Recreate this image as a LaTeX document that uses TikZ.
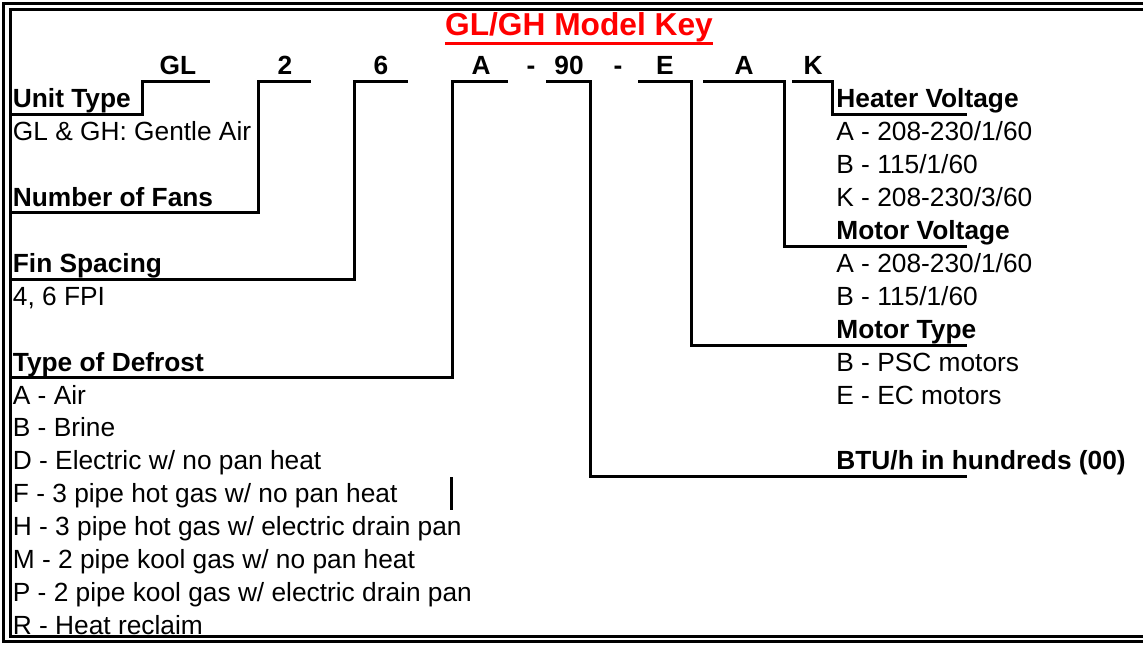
\documentclass[tikz,border=0pt]{standalone}
\usepackage{fontspec}
\setmainfont{Liberation Sans}
\begin{document}
\begin{tikzpicture}[x=0.5pt,y=-0.5pt,
  body/.style={anchor=base west, inner sep=0pt, font=\fontsize{13.15pt}{16pt}\selectfont},
  head/.style={anchor=base west, inner sep=0pt, font=\fontsize{13.15pt}{16pt}\selectfont\bfseries},
  code/.style={anchor=base, inner sep=0pt, font=\fontsize{13.15pt}{16pt}\selectfont\bfseries},
  conn/.style={line width=1.5pt},
  frameline/.style={line width=1.5pt}]
\useasboundingbox (0,0) rectangle (1143,645);
% frame
\draw[frameline] (1150,3.5) -- (3.5,3.5) -- (3.5,641.5) -- (1150,641.5);
\draw[frameline] (1150,9.5) -- (10,9.5) -- (10,636) -- (1150,636);
% title
\node[anchor=base, inner sep=0pt, text=red, font=\fontsize{15.85pt}{18pt}\selectfont\bfseries] (title) at (579,35) {GL/GH Model Key};
\draw[red, line width=1.75pt] ([yshift=-4.25pt]title.base west) -- ([yshift=-4.25pt]title.base east);
% code letters
\node[code] (cGL) at (178,74) {GL};
\node[code] (c2) at (285,74) {2};
\node[code] (c6) at (381,74) {6};
\node[code] (cA) at (481,74) {A};
\node[code] (cd1) at (531,74) {-};
\node[code] (c90) at (569,74) {90};
\node[code] (cd2) at (618,74) {-};
\node[code] (cE) at (665,74) {E};
\node[code] (cA2) at (744,74) {A};
\node[code] (cK) at (813,74) {K};
% left column
\node[head] (unittype) at (12.5,107.9) {Unit Type};
\node[body] (l1) at (12.5,140.8) {GL \& GH: Gentle Air};
\node[head] (fans) at (12.5,206.6) {Number of Fans};
\node[head] (fin) at (12.5,272.4) {Fin Spacing};
\node[body] (l6) at (12.5,305.3) {4, 6 FPI};
\node[head] (defrost) at (12.5,371.1) {Type of Defrost};
\node[body] (l9) at (12.5,404.0) {A - Air};
\node[body] (l10) at (12.5,436.9) {B - Brine};
\node[body] (l11) at (12.5,469.8) {D - Electric w/ no pan heat};
\node[body] (l12) at (12.5,502.7) {F - 3 pipe hot gas w/ no pan heat};
\node[body] (l13) at (12.5,535.6) {H - 3 pipe hot gas w/ electric drain pan};
\node[body] (l14) at (12.5,568.5) {M - 2 pipe kool gas w/ no pan heat};
\node[body] (l15) at (12.5,601.4) {P - 2 pipe kool gas w/ electric drain pan};
\node[body] (l16) at (12.5,634.3) {R - Heat reclaim};
% right column
\node[head] (heater) at (836,107.9) {Heater Voltage};
\node[body] (r1) at (836,140.8) {A - 208-230/1/60};
\node[body] (r2) at (836,173.7) {B - 115/1/60};
\node[body] (r3) at (836,206.6) {K - 208-230/3/60};
\node[head] (motorv) at (836,239.5) {Motor Voltage};
\node[body] (r5) at (836,272.4) {A - 208-230/1/60};
\node[body] (r6) at (836,305.3) {B - 115/1/60};
\node[head] (motort) at (836,338.2) {Motor Type};
\node[body] (r8) at (836,371.1) {B - PSC motors};
\node[body] (r9) at (836,404.0) {E - EC motors};
\node[head] (btu) at (836,469.8) {BTU/h in hundreds (00)};
% connector points
\coordinate (utS) at (10,114);   \coordinate (utE) at (210,81.5);
\coordinate (nfS) at (10,212.5); \coordinate (nfE) at (311,81.5);
\coordinate (fsS) at (10,279);   \coordinate (fsE) at (408,81.5);
\coordinate (tdS) at (10,377.5); \coordinate (tdE) at (508,81.5);
\coordinate (btS) at (546,81.5); \coordinate (btE) at (967,476.5);
\coordinate (mtS) at (638,81.5); \coordinate (mtE) at (967,345);
\coordinate (mvS) at (703,81.5); \coordinate (mvE) at (967,246);
\coordinate (hvS) at (792,81.5); \coordinate (hvE) at (967,114);
\coordinate (strayA) at (451,477); \coordinate (strayB) at (451,510);
% connectors
\draw[conn] (utS) -- (142,114) -- (142,81.5) -- (utE);
\draw[conn] (nfS) -- (258,212.5) -- (258,81.5) -- (nfE);
\draw[conn] (fsS) -- (354,279) -- (354,81.5) -- (fsE);
\draw[conn] (tdS) -- (452,377.5) -- (452,81.5) -- (tdE);
\draw[conn] (btS) -- (590,81.5) -- (590,476.5) -- (btE);
\draw[conn] (mtS) -- (691,81.5) -- (691,345) -- (mtE);
\draw[conn] (mvS) -- (784,81.5) -- (784,246) -- (mvE);
\draw[conn] (hvS) -- (832,81.5) -- (832,114) -- (hvE);
\draw[conn] (strayA) -- (strayB);
\end{tikzpicture}
\end{document}
